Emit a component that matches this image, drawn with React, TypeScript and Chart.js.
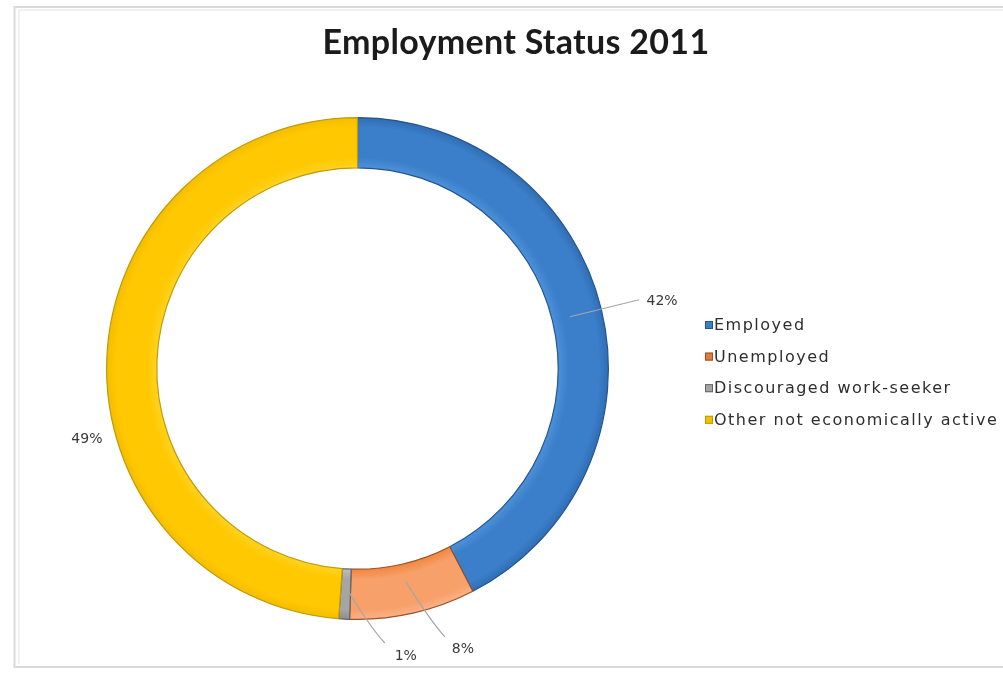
import React, { useEffect, useRef } from "react";
import { Chart, registerables } from "chart.js";

Chart.register(...registerables);

// ---- data ----
const chartTitle = "Employment Status 2011";
const categories = [
  "Employed",
  "Unemployed",
  "Discouraged work-seeker",
  "Other not economically active",
];
const shares = [42.4, 8.1, 0.7, 48.8];
const percentLabels = ["42%", "8%", "1%", "49%"];

// ---- styles ----
const shades = [
  ["#4b90d9", "#3b7ec9", "#2f6db3"],
  ["#f18840", "#f7a06a", "#fab38a"],
  ["#bdbdbd", "#a5a5a5", "#8c8c8c"],
  ["#ffd21f", "#ffc800", "#f3bd00"],
];
const edgeColors = ["#23558e", "#9c5224", "#666666", "#bf9a08"];
const legendSwatch = ["#3b7ec9", "#e07a40", "#a5a5a5", "#f0c000"];

// label placement relative to each slice's anchor point
const labelLayout: { path: number[][] | null; text: number[] }[] = [
  { path: [[69, -17]], text: [92, -15] },
  { path: [[26, 41], [39, 55]], text: [57, 67] },
  { path: [[24, 40], [39, 56]], text: [60, 69] },
  { path: null, text: [-52, 79] },
];

const overlayPlugin = {
  id: "overlay",
  beforeDraw(chart: any) {
    const ctx = chart.ctx;
    ctx.save();
    // frame
    ctx.strokeStyle = "#dadada";
    ctx.lineWidth = 2;
    ctx.beginPath();
    ctx.moveTo(1010, 7);
    ctx.lineTo(14.5, 7);
    ctx.lineTo(14.5, 667);
    ctx.lineTo(1010, 667);
    ctx.stroke();
    ctx.strokeStyle = "#f1f1f1";
    ctx.lineWidth = 2;
    ctx.beginPath();
    ctx.moveTo(1010, 10);
    ctx.lineTo(19, 10);
    ctx.lineTo(19, 664);
    ctx.stroke();
    ctx.restore();
  },
  afterDraw(chart: any) {
    const ctx = chart.ctx;
    ctx.save();
    // title
    ctx.fillStyle = "#1b1b1b";
    ctx.font = "bold 34px Lato";
    (ctx as any).letterSpacing = "0.3px";
    ctx.textAlign = "center";
    ctx.textBaseline = "alphabetic";
    ctx.fillText(chartTitle, 516, 54);

    // legend
    ctx.font = "16px 'DejaVu Sans'";
    (ctx as any).letterSpacing = "1.5px";
    ctx.textAlign = "left";
    ctx.textBaseline = "middle";
    categories.forEach((c, i) => {
      const y = 325 + i * 31.6;
      ctx.fillStyle = legendSwatch[i];
      ctx.fillRect(705, y - 4, 8, 8);
      ctx.strokeStyle = edgeColors[i];
      ctx.lineWidth = 1;
      ctx.strokeRect(705.5, y - 3.5, 7, 7);
      ctx.fillStyle = "#2e2e2e";
      ctx.fillText(c, 714, y + 1);
    });
    (ctx as any).letterSpacing = "0px";

    // data labels
    const meta = chart.getDatasetMeta(0);
    ctx.font = "14px 'DejaVu Sans'";
    ctx.textAlign = "center";
    ctx.textBaseline = "middle";
    meta.data.forEach((arc: any, i: number) => {
      const p = arc.getProps(
        ["x", "y", "startAngle", "endAngle", "innerRadius", "outerRadius"],
        true
      );
      const mid = (p.startAngle + p.endAngle) / 2;
      const r = p.innerRadius + (p.outerRadius - p.innerRadius) * 0.36;
      const ax = p.x + Math.cos(mid) * r;
      const ay = p.y + Math.sin(mid) * r;
      const lay = labelLayout[i];
      if (lay.path) {
        ctx.strokeStyle = "#a6a6a6";
        ctx.lineWidth = 1.2;
        ctx.beginPath();
        ctx.moveTo(ax, ay);
        if (lay.path.length === 1) {
          ctx.lineTo(ax + lay.path[0][0], ay + lay.path[0][1]);
        } else {
          ctx.quadraticCurveTo(
            ax + lay.path[0][0],
            ay + lay.path[0][1],
            ax + lay.path[1][0],
            ay + lay.path[1][1]
          );
        }
        ctx.stroke();
      }
      ctx.fillStyle = "#3a3a3a";
      ctx.fillText(percentLabels[i], ax + lay.text[0], ay + lay.text[1]);
    });
    ctx.restore();
  },
};

const bg = (c: any) => {
  const chart = c.chart;
  const a = chart.chartArea;
  const s = shades[c.dataIndex] || shades[0];
  if (!a) return s[1];
  const cx = (a.left + a.right) / 2;
  const cy = (a.top + a.bottom) / 2;
  const outer = Math.min(a.right - a.left, a.bottom - a.top) / 2;
  const inner = outer * 0.8;
  const g = chart.ctx.createRadialGradient(cx, cy, inner, cx, cy, outer);
  g.addColorStop(0, s[0]);
  g.addColorStop(0.2, s[1]);
  g.addColorStop(0.8, s[1]);
  g.addColorStop(1, s[2]);
  return g;
};

export default function App() {
  const ref = useRef<HTMLCanvasElement | null>(null);
  useEffect(() => {
    if (!ref.current) return;
    const chart = new Chart(ref.current, {
      type: "doughnut",
      data: {
        labels: categories,
        datasets: [
          {
            data: shares,
            backgroundColor: bg as any,
            borderColor: edgeColors,
            borderWidth: 1.2,
          },
        ],
      },
      options: {
        responsive: false,
        animation: false,
        cutout: "80%",
        rotation: 0,
        layout: { padding: { left: 106, right: 394, top: 117, bottom: 57 } },
        plugins: {
          legend: { display: false },
          title: { display: false },
          tooltip: { enabled: false },
        },
      },
      plugins: [overlayPlugin],
    });
    return () => chart.destroy();
  }, []);
  return (
    <div style={{ position: "absolute", left: 0, top: 0, width: 1003, height: 677, background: "#fff" }}>
      <canvas ref={ref} width={1003} height={677} style={{ display: "block" }} />
    </div>
  );
}
